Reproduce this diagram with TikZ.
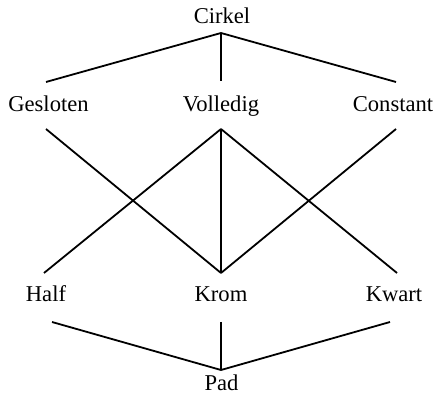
\documentclass[tikz,border=0pt]{standalone}
\usepackage{fontspec}
\setmainfont{Liberation Serif}
\begin{document}
\begin{tikzpicture}[x=0.5pt,y=-0.5pt,line width=0.9pt,
  lbl/.style={anchor=base,inner sep=0pt,font=\fontsize{11.3}{13}\selectfont}]
\useasboundingbox (0,0) rectangle (438,394);
% labels
\node[lbl] (cirkel) at (222,24) {Cirkel};
\node[lbl] (gesloten) at (48.5,112) {Gesloten};
\node[lbl] (volledig) at (221,112) {Volledig};
\node[lbl] (constant) at (393,112) {Constant};
\node[lbl] (half) at (46,302) {Half};
\node[lbl] (krom) at (221,302) {Krom};
\node[lbl] (kwart) at (394,302) {Kwart};
\node[lbl] (pad) at (221.5,390) {Pad};
% top
\draw ([shift={(-1,9)}]cirkel.base) -- ([shift={(-2.5,-30)}]gesloten.base);
\draw ([shift={(-1,9)}]cirkel.base) -- ([shift={(0,-31)}]volledig.base);
\draw ([shift={(-1,9)}]cirkel.base) -- ([shift={(3,-30)}]constant.base);
% middle
\draw ([shift={(-2.5,17)}]gesloten.base) -- ([shift={(0,-29)}]krom.base);
\draw ([shift={(0,17)}]volledig.base) -- ([shift={(-2,-29)}]half.base);
\draw ([shift={(0,17)}]volledig.base) -- ([shift={(0,-29)}]krom.base);
\draw ([shift={(0,17)}]volledig.base) -- ([shift={(3,-29)}]kwart.base);
\draw ([shift={(3,17)}]constant.base) -- ([shift={(0,-29)}]krom.base);
% bottom
\draw ([shift={(6,20)}]half.base) -- ([shift={(-0.5,-20)}]pad.base);
\draw ([shift={(0,20)}]krom.base) -- ([shift={(-0.5,-20)}]pad.base);
\draw ([shift={(-4,20)}]kwart.base) -- ([shift={(-0.5,-20)}]pad.base);
\end{tikzpicture}
\end{document}
